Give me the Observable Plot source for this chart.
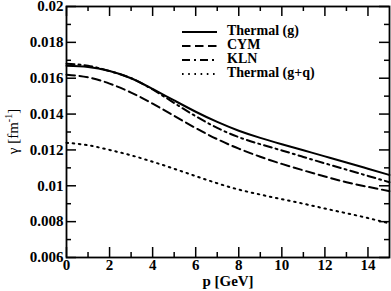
<!DOCTYPE html>
<html><head><meta charset="utf-8">
<script src="https://cdn.jsdelivr.net/npm/d3@7"></script>
<script src="https://cdn.jsdelivr.net/npm/@observablehq/plot@0.6"></script>
<style>body{margin:0;background:#fff} svg{display:block}</style>
</head><body><div id="chart"></div>
<script>
const p = [0,1,2,3,4,5,6,7,8,9,10,11,12,13,14,15];
const thermalG  = [0.0167,0.01663,0.0164,0.0160,0.0154,0.01476,0.01413,0.01356,0.01307,0.01267,0.01232,0.01198,0.01164,0.0113,0.01095,0.0106];
const cym       = [0.0162,0.01605,0.0157,0.0152,0.01458,0.0139,0.01322,0.0126,0.01207,0.01162,0.01122,0.01086,0.01052,0.0102,0.00994,0.0097];
const kln       = [0.0168,0.0167,0.0164,0.0160,0.01537,0.01462,0.01388,0.01323,0.01271,0.01232,0.01197,0.01161,0.01125,0.0109,0.01055,0.0102];
const thermalGQ = [0.0124,0.01226,0.0120,0.0117,0.01134,0.01095,0.01054,0.01014,0.00979,0.00951,0.00925,0.0090,0.00873,0.00847,0.0082,0.0079];
const seriesNames = ["Thermal (g)","CYM","KLN","Thermal (g+q)"];
const xMajor = [0,2,4,6,8,10,12,14];
const xMinor = [1,3,5,7,9,11,13];
const yMajor = [0.006,0.008,0.01,0.012,0.014,0.016,0.018,0.02];
const yLabels = ["0.006","0.008","0.01","0.012","0.014","0.016","0.018","0.02"];
const yMinor = [0.007,0.009,0.011,0.013,0.015,0.017,0.019];

const W = 391, H = 291, mL = 66, mR = 2, mT = 6, mB = 34;
const iW = W - mL - mR, iH = H - mT - mB;
const font = "'Liberation Serif','Times New Roman',serif";
const seriesVals = [thermalG, cym, kln, thermalGQ];
const dashes = [null, "8.5,4.5", "8,4,2,4", "1.6,4.6"];
const toRows = (vals) => p.map((x, i) => ({p: x, v: vals[i]}));

const lineMarks = seriesVals.map((vals, k) => Plot.line(toRows(vals), {
  x: "p", y: "v", stroke: "black", strokeWidth: 2, curve: "natural",
  strokeDasharray: dashes[k]
}));

const chart = Plot.plot({
  width: W, height: H,
  marginLeft: mL, marginRight: mR, marginTop: mT, marginBottom: mB,
  style: {fontFamily: font, fontWeight: "bold", fontSize: "15px", color: "black", background: "white"},
  x: {domain: [0, 15], axis: null},
  y: {domain: [0.006, 0.02], axis: null},
  marks: [
    ...lineMarks,
    Plot.tickY(yMajor, {y: d => d, insetRight: iW - 10, strokeWidth: 1.5}),
    Plot.tickY(yMajor, {y: d => d, insetLeft: iW - 10, strokeWidth: 1.5}),
    Plot.tickY(yMinor, {y: d => d, insetRight: iW - 5, strokeWidth: 1.5}),
    Plot.tickY(yMinor, {y: d => d, insetLeft: iW - 5, strokeWidth: 1.5}),
    Plot.tickX(xMajor, {x: d => d, insetTop: iH - 10, strokeWidth: 1.5}),
    Plot.tickX(xMajor, {x: d => d, insetBottom: iH - 10, strokeWidth: 1.5}),
    Plot.tickX(xMinor, {x: d => d, insetTop: iH - 5, strokeWidth: 1.5}),
    Plot.tickX(xMinor, {x: d => d, insetBottom: iH - 5, strokeWidth: 1.5}),
    Plot.axisY(yMajor, {anchor: "left", tickSize: 0, tickPadding: 3, label: null,
      tickFormat: (d) => yLabels[yMajor.indexOf(d)], fontSize: 15, fontWeight: "bold"}),
    Plot.axisX(xMajor, {anchor: "bottom", tickSize: 0, tickPadding: 2, label: null,
      tickFormat: d => String(d), fontSize: 15, fontWeight: "bold"}),
    Plot.text(["p [GeV]"], {frameAnchor: "bottom", lineAnchor: "middle", dy: 24, text: d => d, fontSize: 15, fontWeight: "bold"}),
    Plot.frame({stroke: "black", strokeWidth: 1.8})
  ]
});

const svg = d3.select(chart);
// y-axis label
const yl = svg.append("text")
  .attr("transform", `translate(15,${mT + iH / 2}) rotate(-90)`)
  .attr("text-anchor", "middle")
  .attr("dominant-baseline", "middle")
  .style("font-family", font).style("font-weight", "normal").style("font-size", "15px")
  .attr("fill", "black");
yl.append("tspan").text("γ [fm");
yl.append("tspan").attr("baseline-shift", "super").style("font-size", "10px").text("-1");
yl.append("tspan").text("]");

// legend
const lg = svg.append("g").attr("transform", "translate(182,32)");
seriesNames.forEach((name, k) => {
  const row = lg.append("g").attr("transform", `translate(0,${k * 14})`);
  row.append("line").attr("x1", 0).attr("x2", 35).attr("y1", 0).attr("y2", 0)
    .attr("stroke", "black").attr("stroke-width", 2)
    .attr("stroke-dasharray", dashes[k]);
  row.append("text").attr("x", 45).attr("y", 0)
    .attr("text-anchor", "start").attr("dominant-baseline", "middle")
    .style("font-family", font).style("font-weight", "bold").style("font-size", "14px")
    .attr("fill", "black").text(name);
});

document.getElementById("chart").appendChild(chart);
</script>
</body></html>
